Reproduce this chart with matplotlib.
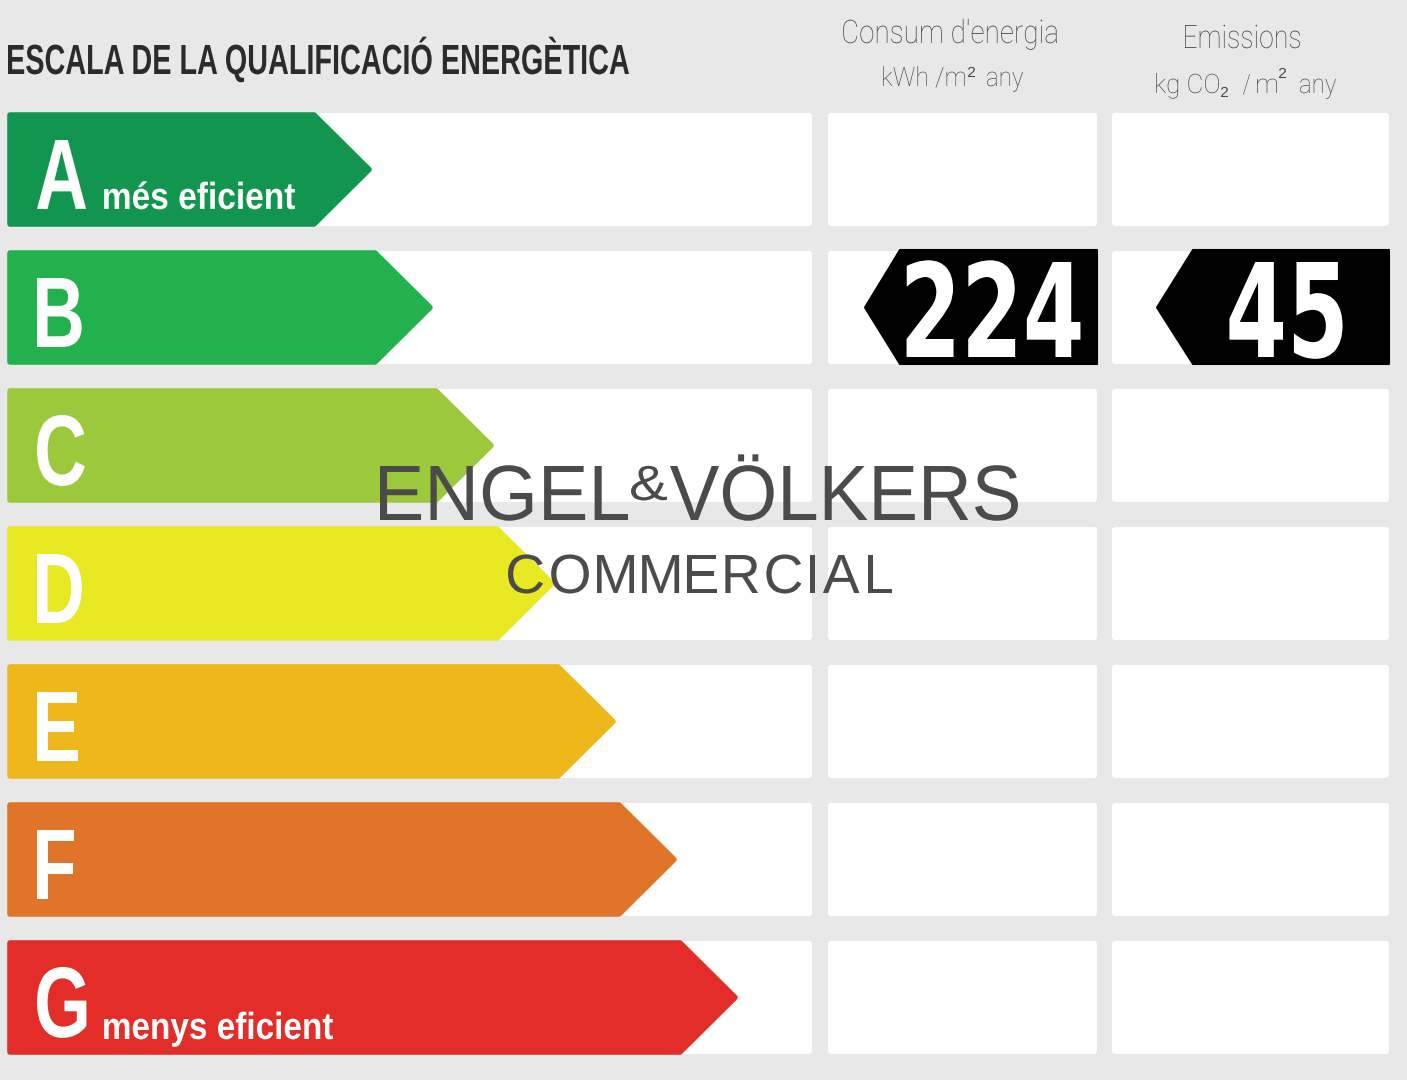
import matplotlib
matplotlib.use('Agg')
import matplotlib.pyplot as plt
from matplotlib.patches import Polygon, FancyBboxPatch, PathPatch
from matplotlib.textpath import TextPath
from matplotlib.font_manager import FontProperties
from matplotlib.transforms import Affine2D

# --- data ---
ratings = ['A', 'B', 'C', 'D', 'E', 'F', 'G']
rating_colors = ['#12964f', '#22b14c', '#9cc93c', '#e8e823', '#eeb71c', '#e0752a', '#e22d29']
rating_notes = ['més eficient', '', '', '', '', '', 'menys eficient']
consum_rating = 'B'
consum_value = 224
emission_rating = 'B'
emission_value = 45
title = 'ESCALA DE LA QUALIFICACIÓ ENERGÈTICA'

BG = '#e8e8e8'
bold = FontProperties(family='Liberation Sans', weight='bold')
regular = FontProperties(family='Liberation Sans')
light = FontProperties(family='Roboto', weight='light')
digits = FontProperties(family='DejaVu Sans', weight='bold')


def put_text(ax, s, x, base, cap, prop, color, width=None, squeeze=1.0, ha='left', z=6):
    """Draw text as a path so it can be squeezed horizontally (condensed look)."""
    path = TextPath((0, 0), s, size=1, prop=prop)
    ref = TextPath((0, 0), 'H', size=1, prop=prop).get_extents()
    k = cap / ref.height
    ext = path.get_extents()
    sx = width / ext.width if width else k * squeeze
    if ha == 'center':
        x0 = x - (ext.x0 + ext.width / 2) * sx
    elif ha == 'right':
        x0 = x - ext.x1 * sx
    else:
        x0 = x - ext.x0 * sx
    tr = Affine2D().scale(sx, -k).translate(x0, base)
    ax.add_patch(PathPatch(tr.transform_path(path), fc=color, ec='none', zorder=z))


def tracked_text(ax, s, x_left, x_right, base, cap, prop, color, z=7):
    """Letter-spaced text filling [x_left, x_right]."""
    k = cap / TextPath((0, 0), 'H', size=1, prop=prop).get_extents().height
    paths = [TextPath((0, 0), ch, size=1, prop=prop) for ch in s]
    widths = [p.get_extents().width * k for p in paths]
    gap = (x_right - x_left - sum(widths)) / (len(s) - 1)
    cur = x_left
    for p, w in zip(paths, widths):
        e = p.get_extents()
        tr = Affine2D().scale(k, -k).translate(cur - e.x0 * k, base)
        ax.add_patch(PathPatch(tr.transform_path(p), fc=color, ec='none', zorder=z))
        cur += w + gap


fig = plt.figure(figsize=(14.07, 10.8), dpi=100, facecolor=BG)
ax = fig.add_axes([0, 0, 1, 1])
ax.set_xlim(0, 1407)
ax.set_ylim(1080, 0)
ax.axis('off')
ax.set_facecolor(BG)

row_top0, row_step, row_h = 113, 138, 113
panel_cols = [(8, 812), (828, 1097), (1112, 1389)]

for i, (r, c) in enumerate(zip(ratings, rating_colors)):
    t = row_top0 + i * row_step
    b = t + row_h
    for x0, x1 in panel_cols:
        ax.add_patch(FancyBboxPatch((x0, t), x1 - x0, row_h, boxstyle='round,pad=0,rounding_size=3',
                                    fc='white', ec='none', zorder=1))
    # colored arrow
    tip = 370 + 61 * i
    pts = [(10, t + 2), (tip - 56, t + 2), (tip - 1, t + row_h / 2), (tip - 56, b - 2), (10, b - 2)]
    ax.add_patch(Polygon(pts, closed=True, fc=c, ec=c, lw=4, joinstyle='round', zorder=2))
    # big letter
    put_text(ax, r, 37, t + 96, 69, bold, 'white', squeeze=0.73, z=3)
    note = rating_notes[i]
    if note:
        w = 191 if i == 0 else 229
        put_text(ax, note, 104, t + 96 if i == 0 else t + 98, 26, bold, 'white', width=w, z=3)

    # value badges
    for rating, val, (x0, x1), tip_x, tl_x in [
            (consum_rating, consum_value, panel_cols[1], 865, 900),
            (emission_rating, emission_value, panel_cols[2], 1157, 1193)]:
        if rating != r:
            continue
        bpts = [(tip_x, t + row_h / 2), (tl_x, t - 1), (x1, t - 1), (x1, b), (tl_x, b)]
        ax.add_patch(Polygon(bpts, closed=True, fc='black', ec='black', lw=1.5, joinstyle='round', zorder=3))
        put_text(ax, str(val), (tl_x + x1) / 2 - 5, t + 106, 95, digits, 'white',
                 squeeze=0.68, ha='center', z=4)

# title and column headers
put_text(ax, title, 8, 74, 29, bold, '#2b2b2b', width=621)
hc = '#4a4a4a'
put_text(ax, "Consum d'energia", 843, 43, 23, light, hc, width=214)
put_text(ax, 'kWh /m', 883, 86, 19, light, hc, width=82)
put_text(ax, '2', 968, 77, 10, regular, hc, width=7)
put_text(ax, 'any', 987, 86, 19, light, hc, width=36)
put_text(ax, 'Emissions', 1185, 48, 23, light, hc, width=115)
put_text(ax, 'kg CO', 1156, 93, 19, light, hc, width=63)
put_text(ax, '2', 1221, 97, 10, regular, hc, width=7)
put_text(ax, '/', 1243, 93, 19, light, hc, width=7)
put_text(ax, 'm', 1257, 93, 19, light, hc, width=20)
put_text(ax, '2', 1279, 78, 10, regular, hc, width=7)
put_text(ax, 'any', 1300, 93, 19, light, hc, width=36)

# watermark
wm = '#4b4b4b'
put_text(ax, 'ENGEL', 380, 520, 54, regular, wm, width=248, z=7)
put_text(ax, '&', 631, 500, 34, regular, wm, width=36, z=7)
put_text(ax, 'VÖLKERS', 670, 520, 54, regular, wm, width=348, z=7)
tracked_text(ax, 'COMMERCIAL', 508, 892, 593, 38, regular, wm)

fig.savefig('out.png', dpi=100, facecolor=BG)
